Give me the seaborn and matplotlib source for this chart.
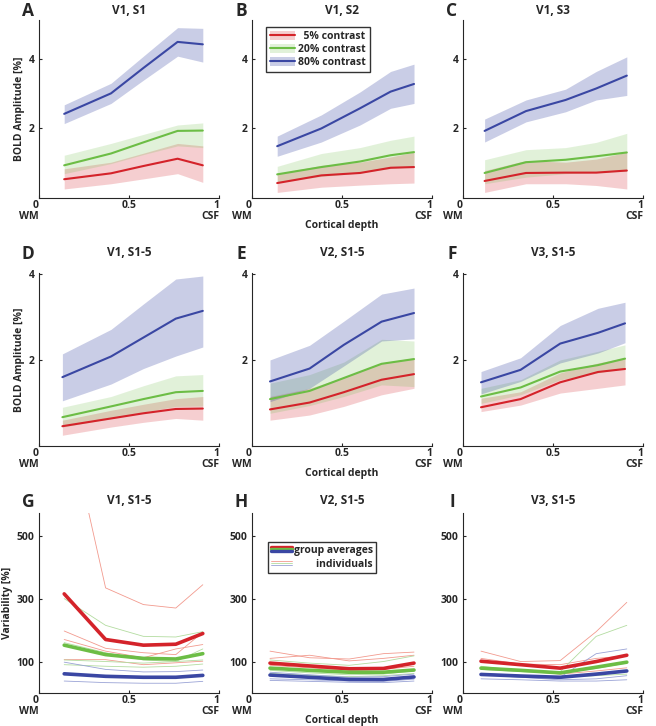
import numpy as np
import pandas as pd
import matplotlib
matplotlib.use("Agg")
import matplotlib.pyplot as plt
import seaborn as sns
from matplotlib.lines import Line2D
from matplotlib.patches import Patch
from matplotlib.legend_handler import HandlerBase

# ---- BOLD amplitude panels (A-F): mean, lower and upper band per contrast ----
A_depth = [0.14, 0.40, 0.58, 0.77, 0.91]
A5 = [0.54, 0.71, 0.92, 1.13, 0.94]
A5_lo = [0.26, 0.41, 0.55, 0.70, 0.45]
A5_hi = [0.84, 1.03, 1.29, 1.57, 1.50]
A20 = [0.94, 1.28, 1.60, 1.93, 1.94]
A20_lo = [0.70, 0.99, 1.25, 1.50, 1.45]
A20_hi = [1.23, 1.57, 1.83, 2.10, 2.16]
A80 = [2.42, 3.01, 3.74, 4.49, 4.42]
A80_lo = [2.14, 2.72, 3.39, 4.08, 3.91]
A80_hi = [2.68, 3.30, 4.08, 4.90, 4.88]

B_depth = [0.14, 0.385, 0.60, 0.77, 0.90]
B5 = [0.43, 0.65, 0.72, 0.87, 0.89]
B5_lo = [0.16, 0.31, 0.37, 0.41, 0.43]
B5_hi = [0.70, 0.94, 1.03, 1.18, 1.32]
B20 = [0.68, 0.89, 1.05, 1.23, 1.32]
B20_lo = [0.45, 0.62, 0.72, 0.85, 0.90]
B20_hi = [0.91, 1.28, 1.45, 1.66, 1.78]
B80 = [1.49, 2.00, 2.58, 3.06, 3.28]
B80_lo = [1.20, 1.61, 2.10, 2.58, 2.72]
B80_hi = [1.78, 2.39, 3.05, 3.64, 3.85]

C_depth = [0.12, 0.35, 0.57, 0.74, 0.91]
C5 = [0.49, 0.72, 0.73, 0.73, 0.79]
C5_lo = [0.16, 0.41, 0.41, 0.36, 0.26]
C5_hi = [0.79, 1.08, 1.03, 1.12, 1.32]
C20 = [0.72, 1.03, 1.10, 1.20, 1.31]
C20_lo = [0.41, 0.60, 0.70, 0.74, 0.77]
C20_hi = [1.10, 1.39, 1.45, 1.60, 1.86]
C80 = [1.93, 2.50, 2.82, 3.15, 3.52]
C80_lo = [1.61, 2.19, 2.48, 2.82, 2.95]
C80_hi = [2.27, 2.82, 3.13, 3.64, 4.06]

D_depth = [0.13, 0.40, 0.58, 0.76, 0.91]
D5 = [0.46, 0.64, 0.76, 0.86, 0.87]
D5_lo = [0.25, 0.44, 0.55, 0.64, 0.60]
D5_hi = [0.60, 0.83, 0.97, 1.10, 1.15]
D20 = [0.67, 0.92, 1.09, 1.25, 1.28]
D20_lo = [0.44, 0.64, 0.79, 0.92, 0.93]
D20_hi = [0.90, 1.15, 1.40, 1.63, 1.66]
D80 = [1.60, 2.08, 2.52, 2.96, 3.14]
D80_lo = [1.05, 1.44, 1.80, 2.09, 2.30]
D80_hi = [2.14, 2.71, 3.30, 3.88, 3.95]

E_depth = [0.10, 0.32, 0.51, 0.72, 0.90]
E5 = [0.85, 1.01, 1.25, 1.54, 1.67]
E5_lo = [0.60, 0.72, 0.92, 1.19, 1.34]
E5_hi = [1.15, 1.34, 1.60, 1.93, 2.05]
E20 = [1.09, 1.28, 1.58, 1.91, 2.02]
E20_lo = [0.76, 0.94, 1.15, 1.42, 1.38]
E20_hi = [1.46, 1.66, 1.95, 2.48, 2.44]
E80 = [1.50, 1.80, 2.35, 2.89, 3.09]
E80_lo = [1.03, 1.34, 1.86, 2.44, 2.49]
E80_hi = [2.00, 2.34, 2.90, 3.53, 3.67]

F_depth = [0.10, 0.32, 0.54, 0.75, 0.90]
F5 = [0.90, 1.09, 1.48, 1.72, 1.79]
F5_lo = [0.80, 0.95, 1.23, 1.34, 1.42]
F5_hi = [1.11, 1.26, 1.70, 1.93, 2.05]
F20 = [1.15, 1.36, 1.73, 1.88, 2.03]
F20_lo = [0.99, 1.19, 1.54, 1.70, 1.81]
F20_hi = [1.34, 1.54, 2.00, 2.20, 2.35]
F80 = [1.48, 1.77, 2.38, 2.63, 2.85]
F80_lo = [1.21, 1.50, 1.93, 2.16, 2.40]
F80_hi = [1.73, 2.05, 2.80, 3.20, 3.34]

# ---- variability panels (G-I): group averages and individuals ----
G_depth = [0.14, 0.37, 0.58, 0.76, 0.91]
G5 = [315, 170, 152, 155, 189]
G20 = [152, 122, 110, 108, 125]
G80 = [61, 53, 50, 50, 56]
G_ind5 = [[920, 334, 281, 270, 344], [197, 142, 128, 122, 193],
          [170, 133, 112, 140, 154], [106, 106, 90, 96, 101]]
G_ind20 = [[300, 215, 180, 178, 195], [160, 128, 105, 100, 140],
           [105, 100, 95, 100, 105], [90, 85, 82, 85, 92]]
G_ind80 = [[98, 75, 67, 68, 73], [60, 52, 48, 50, 58], [38, 33, 31, 31, 37]]

H_depth = [0.10, 0.32, 0.54, 0.73, 0.90]
H5 = [95, 86, 77, 78, 95]
H20 = [79, 72, 66, 66, 73]
H80 = [57, 50, 43, 43, 51]
H_ind5 = [[133, 112, 108, 125, 130], [110, 120, 102, 110, 120], [88, 80, 72, 75, 85]]
H_ind20 = [[105, 95, 88, 100, 118], [72, 64, 58, 60, 70], [62, 56, 52, 55, 62]]
H_ind80 = [[66, 58, 50, 52, 60], [45, 42, 38, 37, 44], [40, 37, 34, 33, 38]]

I_depth = [0.10, 0.32, 0.54, 0.74, 0.91]
I5 = [101, 90, 79, 100, 120]
I20 = [79, 72, 64, 82, 98]
I80 = [59, 54, 50, 60, 70]
I_ind5 = [[133, 100, 103, 195, 288], [110, 92, 90, 110, 118], [80, 72, 60, 70, 80]]
I_ind20 = [[85, 70, 68, 180, 215], [75, 68, 62, 78, 95], [60, 55, 50, 55, 60]]
I_ind80 = [[62, 55, 50, 125, 140], [58, 50, 42, 45, 55], [45, 42, 38, 38, 42]]

contrast_labels = ["  5% contrast", "20% contrast", "80% contrast"]
titles = ["V1, S1", "V1, S2", "V1, S3", "V1, S1-5", "V2, S1-5", "V3, S1-5",
          "V1, S1-5", "V2, S1-5", "V3, S1-5"]
letters = list("ABCDEFGHI")

RED, GREEN, BLUE = "#d4232a", "#6cbd45", "#3a47a3"
LIGHT = {RED: "#f29a8e", GREEN: "#b3dca0", BLUE: "#9aa3d6"}
ALPHA = {RED: 0.22, GREEN: 0.2, BLUE: 0.27}

sns.set_style("ticks")
plt.rcParams["font.family"] = ["Open Sans", "DejaVu Sans"]
plt.rcParams.update({
    "font.weight": "bold", "axes.labelweight": "bold", "axes.titleweight": "bold",
    "xtick.direction": "in", "ytick.direction": "in",
    "xtick.major.size": 2.5, "ytick.major.size": 2.5,
    "xtick.labelsize": 7.5, "ytick.labelsize": 7.5,
    "axes.linewidth": 0.8, "xtick.major.width": 0.8, "ytick.major.width": 0.8,
})

fig = plt.figure(figsize=(6.56, 7.26), dpi=100)
W, H_ = 656, 726
col_x = [39, 252, 463]
col_w = 180
rows = [(20, 198), (273, 446), (513, 693)]
axes = []
for r, (top, bot) in enumerate(rows):
    for c in range(3):
        ax = fig.add_axes([col_x[c] / W, 1 - bot / H_, col_w / W, (bot - top) / H_])
        axes.append(ax)


def amp_panel(ax, depth, series):
    for mean, lo, hi, col in series:
        ax.fill_between(depth, lo, hi, color=col, alpha=ALPHA[col], lw=0)
    for mean, lo, hi, col in series:
        sns.lineplot(x=depth, y=mean, color=col, lw=1.5, ax=ax)


def var_panel(ax, depth, avgs, inds):
    for col, group in zip([RED, GREEN, BLUE], inds):
        for vals in group:
            sns.lineplot(x=depth, y=vals, color=LIGHT[col], lw=0.6, ax=ax)
    for col, vals in zip([RED, GREEN, BLUE], avgs):
        sns.lineplot(x=depth, y=vals, color=col, lw=2.6, ax=ax)


amp_data = [
    (A_depth, [(A5, A5_lo, A5_hi, RED), (A20, A20_lo, A20_hi, GREEN), (A80, A80_lo, A80_hi, BLUE)]),
    (B_depth, [(B5, B5_lo, B5_hi, RED), (B20, B20_lo, B20_hi, GREEN), (B80, B80_lo, B80_hi, BLUE)]),
    (C_depth, [(C5, C5_lo, C5_hi, RED), (C20, C20_lo, C20_hi, GREEN), (C80, C80_lo, C80_hi, BLUE)]),
    (D_depth, [(D5, D5_lo, D5_hi, RED), (D20, D20_lo, D20_hi, GREEN), (D80, D80_lo, D80_hi, BLUE)]),
    (E_depth, [(E5, E5_lo, E5_hi, RED), (E20, E20_lo, E20_hi, GREEN), (E80, E80_lo, E80_hi, BLUE)]),
    (F_depth, [(F5, F5_lo, F5_hi, RED), (F20, F20_lo, F20_hi, GREEN), (F80, F80_lo, F80_hi, BLUE)]),
]
var_data = [
    (G_depth, [G5, G20, G80], [G_ind5, G_ind20, G_ind80]),
    (H_depth, [H5, H20, H80], [H_ind5, H_ind20, H_ind80]),
    (I_depth, [I5, I20, I80], [I_ind5, I_ind20, I_ind80]),
]

for i, (depth, series) in enumerate(amp_data):
    amp_panel(axes[i], depth, series)
for i, (depth, avgs, inds) in enumerate(var_data):
    var_panel(axes[6 + i], depth, avgs, inds)

title_gap = [10, 20, 12]
for i, ax in enumerate(axes):
    r = i // 3
    ax.set_xlim(0, 1)
    if r == 0:
        ax.set_ylim(0, 5.12)
        ax.set_yticks([2, 4])
    elif r == 1:
        ax.set_ylim(0, 4.02)
        ax.set_yticks([2, 4])
    else:
        ax.set_ylim(0, 572)
        ax.set_yticks([100, 300, 500])
    ax.set_xticks([0, 0.5, 1])
    ax.set_xticklabels(["0\nWM", "0.5", "1\nCSF"])
    labs = ax.get_xticklabels()
    for k in (0, 2):
        labs[k].set_ha("right")
        labs[k].set_multialignment("right")
        labs[k].set_linespacing(0.95)
    ax.tick_params(axis="x", pad=1.5)
    ax.tick_params(axis="y", pad=3)
    sns.despine(ax=ax)
    top = rows[r][0]
    cx = (col_x[i % 3] + col_w / 2) / W
    fig.text(cx, 1 - (top - title_gap[r]) / H_, titles[i], ha="center", va="center",
             fontsize=8.5, fontweight="bold")
    fig.text((col_x[i % 3] - 11) / W, 1 - (top - title_gap[r] + 1) / H_, letters[i],
             ha="center", va="center", fontsize=12.5, fontweight="bold")
    if i % 3 == 1:
        ax.set_xlabel("Cortical depth", fontsize=7.5, labelpad=-1)
    if i in (0, 3):
        ax.set_ylabel("BOLD Amplitude [%]", fontsize=7.5, labelpad=3)
    if i == 6:
        ax.set_ylabel("Variability [%]", fontsize=7.5, labelpad=3)

# contrast legend in B
handles = [(Patch(color=c, alpha=ALPHA[c], lw=0), Line2D([], [], color=c, lw=1.5))
           for c in (RED, GREEN, BLUE)]
axes[1].legend(handles, contrast_labels, loc="upper left", bbox_to_anchor=(0.05, 0.99),
               frameon=True, fancybox=False, edgecolor="black",
               handlelength=2.4, handleheight=0.9, handletextpad=0.3, borderpad=0.4,
               labelspacing=0.2, prop={"weight": "bold", "size": 7.5})


class StackedLines(HandlerBase):
    def create_artists(self, legend, orig_handle, xdescent, ydescent, width, height,
                       fontsize, trans):
        out = []
        yc = -ydescent + height / 2
        for k, h in enumerate(orig_handle):
            y = yc + (1 - k) * height * 0.28
            ln = Line2D([-xdescent, -xdescent + width], [y, y], color=h.get_color(),
                        lw=h.get_linewidth())
            ln.set_transform(trans)
            out.append(ln)
        return out


avg_h = tuple(Line2D([], [], color=c, lw=2.4) for c in (RED, GREEN, BLUE))
ind_h = tuple(Line2D([], [], color=LIGHT[c], lw=0.6) for c in (RED, GREEN, BLUE))
axes[7].legend([avg_h, ind_h], ["group averages", "        individuals"],
               handler_map={tuple: StackedLines()}, loc="upper left",
               bbox_to_anchor=(0.06, 0.87), frameon=True, fancybox=False,
               edgecolor="black", handlelength=2.0, handletextpad=0.2, borderpad=0.3,
               labelspacing=0.3, prop={"weight": "bold", "size": 7.5})

fig.savefig("out.png", dpi=100)
